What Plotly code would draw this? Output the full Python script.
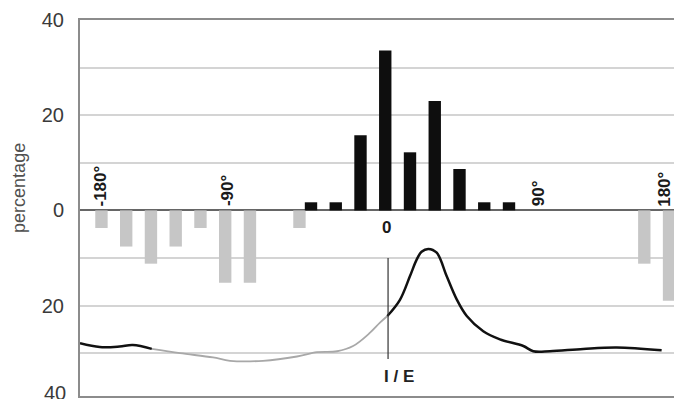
import plotly.graph_objects as go

# ---- data ----
# phase bins (degrees) and percentages
black_x = [-40, -25, -10, 5, 20, 35, 50, 65, 80]
black_y = [1.7, 1.7, 15.8, 33.6, 12.2, 23.0, 8.7, 1.7, 1.7]

gray_x = [-167, -152, -137, -122, -107, -92, -77, -47, 162, 177]
gray_y = [3.7, 7.6, 11.2, 7.6, 3.7, 15.2, 15.2, 3.7, 11.2, 19.0]  # plotted downward

# breathing trace (plotted on the lower half, negative side)
curve1_x = [-180, -168, -156, -148, -136.5]
curve1_y = [-27.9, -28.7, -28.6, -28.3, -29.1]
curve2_x = [-136.5, -119.4, -99.4, -89.1, -69.1, -48.5, -36.4, -24.2, -14.5, -4.2, 1.8, 6.3]
curve2_y = [-29.1, -30.0, -30.9, -31.6, -31.6, -30.7, -29.8, -29.6, -28.5, -25.7, -23.6, -22.2]
curve3_x = [6.3, 13.9, 20.0, 24.1, 27.0, 31.1, 36.2, 42.2, 48.3, 54.4, 64.4, 74.5, 88.7,
            94.7, 104.8, 125.0, 145.3, 172.5]
curve3_y = [-22.2, -18.8, -13.8, -10.3, -8.7, -8.1, -8.9, -13.8, -18.7, -22.2, -25.4, -27.1, -28.5,
            -29.6, -29.6, -29.1, -28.8, -29.4]

ie_x = [6.7, 6.7]
ie_y = [-10.0, -31.2]

deg_labels = ["-180°", "-90°", "90°", "180°"]
deg_label_x = [-167.5, -90.5, 97.5, 174.5]

ytick_vals = [-30, -20, -10, 0, 10, 20, 30, 40]
ytick_text = ["", "20", "", "0", "", "20", "", "40"]
bottom_label = "40"
bottom_label_y = -38.4

FONT = "Liberation Sans, Arial, sans-serif"

fig = go.Figure()
fig.add_trace(go.Bar(x=gray_x, y=[-v for v in gray_y], width=7.5,
                     marker=dict(color="#c6c6c6", line=dict(width=0)), showlegend=False))
fig.add_trace(go.Bar(x=black_x, y=black_y, width=7.5,
                     marker=dict(color="#0e0e0e", line=dict(width=0)), showlegend=False))

fig.add_trace(go.Scatter(x=curve2_x, y=curve2_y, mode="lines", line_shape="spline",
                         line=dict(color="#a8a8a8", width=1.8), showlegend=False))
fig.add_trace(go.Scatter(x=curve1_x, y=curve1_y, mode="lines", line_shape="spline",
                         line=dict(color="#111111", width=2.5), showlegend=False))
fig.add_trace(go.Scatter(x=curve3_x, y=curve3_y, mode="lines", line_shape="spline",
                         line=dict(color="#111111", width=2.5), showlegend=False))
fig.add_trace(go.Scatter(x=ie_x, y=ie_y, mode="lines",
                         line=dict(color="#333333", width=1.2), showlegend=False))

annotations = []
for t, x in zip(deg_labels, deg_label_x):
    annotations.append(dict(x=x, y=0, xref="x", yref="y", text=t, showarrow=False,
                            textangle=-90, xanchor="center", yanchor="bottom", yshift=2,
                            font=dict(family=FONT, size=17, color="#1a1a1a", weight="bold")))
annotations.append(dict(x=5.5, y=-3.5, xref="x", yref="y", text="0", showarrow=False,
                        xanchor="center", yanchor="middle",
                        font=dict(family=FONT, size=17, color="#1a1a1a", weight="bold")))
annotations.append(dict(x=13.5, y=-34.9, xref="x", yref="y", text="I / E", showarrow=False,
                        xanchor="center", yanchor="middle",
                        font=dict(family=FONT, size=17, color="#222222", weight="bold")))
annotations.append(dict(x=-0.104, y=0.554, xref="paper", yref="paper", text="percentage",
                        showarrow=False, textangle=-90, xanchor="center", yanchor="middle",
                        font=dict(family=FONT, size=18, color="#505050")))
annotations.append(dict(x=0, y=bottom_label_y, xref="paper", yref="y", text=bottom_label,
                        showarrow=False, xanchor="right", yanchor="middle", xshift=-12,
                        font=dict(family=FONT, size=20, color="#3a3a3a")))

fig.update_layout(
    width=674, height=399,
    margin=dict(l=80, r=0, t=20, b=3),
    paper_bgcolor="white", plot_bgcolor="white",
    barmode="overlay",
    annotations=annotations,
    xaxis=dict(range=[-180, 180], showgrid=False, zeroline=False, showticklabels=False,
               ticks="", showline=True, mirror=True, linecolor="#8c8c8c", linewidth=2),
    yaxis=dict(range=[-39, 40], tickvals=ytick_vals, ticktext=ytick_text,
               showgrid=True, gridcolor="#d4d4d4", gridwidth=1.5,
               zeroline=True, zerolinecolor="#666666", zerolinewidth=2,
               showline=True, linecolor="#8c8c8c", linewidth=2, ticks="",
               ticklabelstandoff=10,
               tickfont=dict(family=FONT, size=20, color="#3a3a3a")),
)

fig.write_html("out.html")
